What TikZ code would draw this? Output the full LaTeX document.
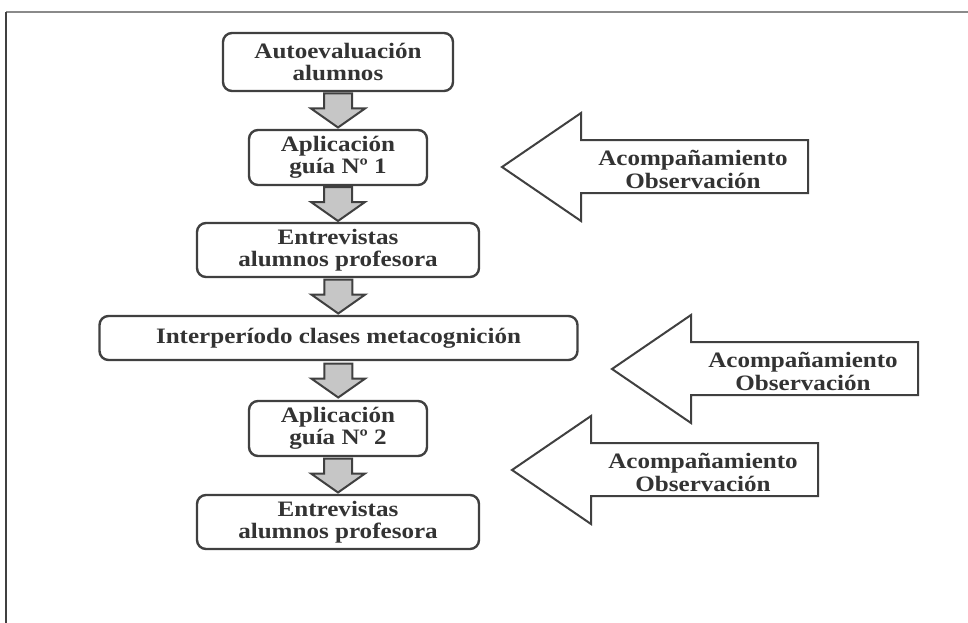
\documentclass[tikz,border=0pt]{standalone}
\usepackage{fontspec}
\setmainfont{Liberation Serif}[FakeStretch=1.14]
\usetikzlibrary{calc}
\definecolor{ink}{HTML}{333333}
\definecolor{edge}{HTML}{404040}
\definecolor{shade}{HTML}{C6C6C6}
\definecolor{rule}{HTML}{8A8A8A}
\begin{document}
\begin{tikzpicture}[x=1pt,y=-1pt,
  stepbox/.style={draw=edge, line width=2.4pt, rounded corners=9pt, fill=white,
    font=\fontsize{22}{22.5}\selectfont\bfseries, text=ink, align=center, inner sep=0pt},
  notelabel/.style={font=\fontsize{22}{23}\selectfont\bfseries, text=ink, align=center, inner sep=0pt},
  blockarrow/.style={draw=edge, line width=2pt, fill=shade, line join=miter},
  hollowarrow/.style={draw=edge, line width=2pt, fill=white, line join=miter},
  flowarrow/.pic={\draw[blockarrow] (-14,-17) -- (14,-17) -- (14,-2) -- (27,-2) -- (0,17) -- (-27,-2) -- (-14,-2) -- cycle;},
  sidearrow/.pic={\draw[hollowarrow] (0,0) -- (79,-54) -- (79,-27) -- (306,-27) -- (306,26) -- (79,26) -- (79,54) -- cycle;}
]
\useasboundingbox (0,0) rectangle (968,623);

% page frame
\draw[rule, line width=1.6pt] (6,12) -- (968,12);
\draw[edge, line width=1.4pt] (6,12) -- (6,623);

% process steps
\node[stepbox, minimum width=230pt, minimum height=58pt] (b1) at (338,62) {Autoevaluación\\alumnos};
\node[stepbox, minimum width=178pt, minimum height=55pt] (b2) at (338,157.5) {Aplicación\\guía Nº 1};
\node[stepbox, minimum width=282pt, minimum height=54pt] (b3) at (338,250) {Entrevistas\\alumnos profesora};
\node[stepbox, minimum width=478pt, minimum height=44pt] (b4) at (338.5,338) {Interperíodo clases metacognición};
\node[stepbox, minimum width=178pt, minimum height=55pt] (b5) at (338,428.5) {Aplicación\\guía Nº 2};
\node[stepbox, minimum width=282pt, minimum height=54pt] (b6) at (338,522) {Entrevistas\\alumnos profesora};

% downward block arrows between steps
\pic at ($(b1.south)!0.5!(b2.north)$) {flowarrow};
\pic at ($(b2.south)!0.5!(b3.north)$) {flowarrow};
\pic at ($(b3.south)!0.5!(b4.north)$) {flowarrow};
\pic at ($(b4.south)!0.5!(b5.north)$) {flowarrow};
\pic at ($(b5.south)!0.5!(b6.north)$) {flowarrow};

% support actions pointing at the steps
\coordinate (t1) at (502,167);
\coordinate (t2) at (612,369);
\coordinate (t3) at (512,470);
\pic at (t1) {sidearrow};
\pic at (t2) {sidearrow};
\pic at (t3) {sidearrow};
\node[notelabel] (n1) at ($(t1)+(191,2.5)$) {Acompañamiento\\Observación};
\node[notelabel] (n2) at ($(t2)+(191,2.5)$) {Acompañamiento\\Observación};
\node[notelabel] (n3) at ($(t3)+(191,2.5)$) {Acompañamiento\\Observación};
\end{tikzpicture}
\end{document}
